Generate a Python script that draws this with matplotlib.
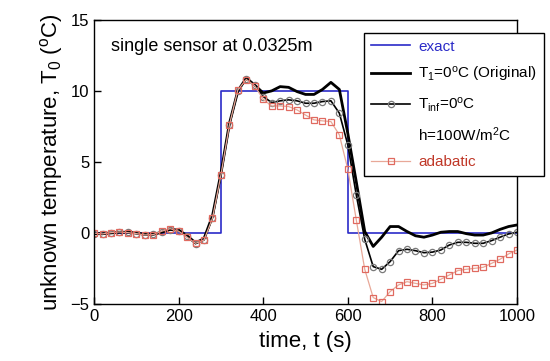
import matplotlib
matplotlib.use("Agg")
import matplotlib.pyplot as plt
import numpy as np

plt.rcParams['font.family'] = ['Liberation Sans', 'DejaVu Sans']
plt.rcParams['mathtext.fontset'] = 'custom'
plt.rcParams['mathtext.rm'] = 'Liberation Sans'
plt.rcParams['mathtext.it'] = 'Liberation Sans:italic'

# exact step input
t_exact = [0, 300, 300, 600, 600, 1000]
T_exact = [0, 0, 10, 10, 0, 0]

# sampled every 20 s
t = np.arange(0, 1001, 20)
T_original = [-0.05, -0.05, 0.0, 0.05, 0.05, 0.0, -0.1, -0.1, 0.05, 0.25,
              0.2, -0.2, -0.7, -0.4, 1.2, 4.2, 7.7, 10.0, 10.9, 10.4,
              9.85, 10.0, 10.3, 10.25, 9.95, 9.75, 9.75, 10.1, 10.6, 10.1,
              7.0, 3.6, 0.1, -0.95, -0.3, 0.45, 0.45, 0.1, -0.2, -0.3,
              -0.15, 0.05, 0.1, 0.1, -0.05, -0.15, -0.15, 0.0, 0.25, 0.45,
              0.56]
T_inf = [-0.05, -0.1, 0.0, 0.05, 0.05, -0.05, -0.12, -0.1, 0.05, 0.22,
         0.15, -0.25, -0.75, -0.5, 1.05, 4.1, 7.6, 10.0, 10.85, 10.4,
         9.6, 9.18, 9.3, 9.37, 9.3, 9.13, 9.13, 9.25, 9.3, 8.43,
         6.2, 2.68, -0.45, -2.37, -2.56, -2.02, -1.25, -1.15, -1.25, -1.39,
         -1.35, -1.2, -0.85, -0.66, -0.66, -0.73, -0.73, -0.54, -0.3, -0.07,
         0.05]
T_adiabatic = [-0.02, -0.07, 0.02, 0.07, 0.02, -0.05, -0.14, -0.12, 0.12, 0.3,
               0.12, -0.3, -0.73, -0.5, 1.03, 4.08, 7.6, 10.07, 10.8, 10.35,
               9.4, 8.94, 8.94, 8.9, 8.66, 8.3, 7.96, 7.89, 7.84, 6.9,
               4.48, 0.92, -2.56, -4.55, -4.83, -4.13, -3.66, -3.43, -3.55, -3.66,
               -3.55, -3.26, -2.96, -2.65, -2.56, -2.49, -2.42, -2.14, -1.85, -1.48,
               -1.2]

fig = plt.figure(figsize=(5.5, 3.61), dpi=100)
ax = fig.add_axes([0.171, 0.158, 0.769, 0.787])

ax.plot(t_exact, T_exact, color='#2b2bc8', lw=1.2, label='exact')
ax.plot(t, T_original, color='black', lw=2.0, label='T$_1$=0$^\\mathrm{o}$C (Original)')
ax.plot(t, T_inf, color='black', lw=1.2, marker='o', ms=4.5, mfc='none',
        mec='#7a7a7a', mew=0.9, label='T$_{\\mathrm{inf}}$=0$^\\mathrm{o}$C')
ax.plot([], [], color='none', label='h=100W/m$^2$C')
ax.plot(t, T_adiabatic, color='#e8a898', lw=0.9, marker='s', ms=4.5, mfc='none',
        mec='#e06a60', mew=0.9, label='adabatic')

ax.set_xlim(0, 1000)
ax.set_ylim(-5, 15)
ax.set_xticks([0, 200, 400, 600, 800, 1000])
ax.set_yticks([-5, 0, 5, 10, 15])
ax.tick_params(direction='in', length=5, labelsize=12, width=1)
for s in ax.spines.values():
    s.set_linewidth(1.0)

ax.set_xlabel('time, t (s)', fontsize=16, labelpad=5)
ax.set_ylabel('unknown temperature, T$_0$ ($^\\mathrm{o}$C)', fontsize=16, labelpad=4)
ax.text(0.04, 0.905, 'single sensor at 0.0325m', transform=ax.transAxes,
        fontsize=13, va='center')

leg = ax.legend(loc='upper left', bbox_to_anchor=(0.638, 0.955), fontsize=11,
                frameon=True, fancybox=False, edgecolor='black', framealpha=1,
                handlelength=2.6, handletextpad=0.5, borderaxespad=0,
                labelspacing=0.75, borderpad=0.45)
leg.get_frame().set_linewidth(1.0)
txt = leg.get_texts()
txt[0].set_color('#2b2bc8')
txt[4].set_color('#c03828')

fig.savefig('out.png', dpi=100)
